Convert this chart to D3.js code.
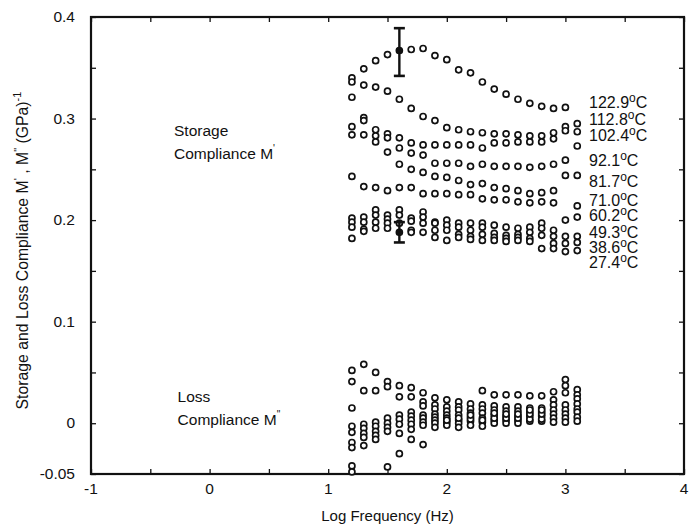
<!DOCTYPE html>
<html>
<head>
<meta charset="utf-8">
<script src="https://cdn.jsdelivr.net/npm/d3@7/dist/d3.min.js"></script>
<style>
  html, body { margin: 0; padding: 0; background: #fff; }
  svg { display: block; }
  text { font-family: "Liberation Sans", Arial, Helvetica, sans-serif; fill: #111; }
</style>
</head>
<body>
<svg id="chart" width="689" height="528"></svg>
<script>
// Log frequency of each measurement (Hz, log10)
const logFreq = [1.2, 1.3, 1.4, 1.5, 1.6, 1.7, 1.8, 1.9, 2.0, 2.1, 2.2, 2.3, 2.4, 2.5, 2.6, 2.7, 2.8, 2.9, 3.0, 3.1];

// Storage compliance M' (GPa^-1) per temperature
const temps = ["122.9", "112.8", "102.4", "92.1", "81.7", "71.0", "60.2", "49.3", "38.6", "27.4"];
const storage1229 = [0.340, 0.349, 0.357, 0.363, 0.367, 0.368, 0.369, 0.362, 0.358, 0.348, 0.345, 0.336, 0.329, 0.324, 0.319, 0.315, 0.312, 0.310, 0.311, null];
const storage1128 = [0.336, 0.333, 0.331, 0.327, 0.319, 0.310, 0.302, 0.298, 0.291, 0.289, 0.287, 0.286, 0.285, 0.285, 0.284, 0.283, 0.283, 0.286, 0.292, 0.295];
const storage1024 = [0.321, 0.301, 0.289, 0.285, 0.281, 0.276, 0.274, 0.274, 0.274, 0.274, 0.274, 0.271, 0.276, 0.276, 0.277, 0.277, 0.277, 0.280, 0.288, 0.287];
const storage921  = [0.292, 0.298, 0.283, 0.281, 0.271, 0.266, 0.264, 0.256, 0.256, 0.256, 0.253, 0.255, 0.253, 0.253, 0.253, 0.252, 0.253, 0.255, 0.259, 0.273];
const storage817  = [0.284, 0.284, 0.277, 0.267, 0.255, 0.250, 0.247, 0.243, 0.242, 0.239, 0.235, 0.236, 0.232, 0.231, 0.229, 0.226, 0.227, 0.229, 0.244, 0.244];
const storage710  = [0.243, 0.233, 0.232, 0.229, 0.232, 0.232, 0.226, 0.226, 0.226, 0.225, 0.225, 0.221, 0.220, 0.220, 0.218, 0.217, 0.218, 0.217, null, 0.214];
const storage602  = [0.202, 0.203, 0.210, 0.205, 0.210, 0.202, 0.208, 0.198, 0.200, 0.197, 0.197, 0.197, 0.195, 0.193, 0.192, 0.193, 0.197, 0.190, 0.200, 0.203];
const storage493  = [0.198, 0.198, 0.205, 0.201, 0.205, 0.199, 0.203, 0.197, 0.195, 0.193, 0.190, 0.193, 0.187, 0.185, 0.186, 0.188, 0.192, 0.184, 0.184, 0.184];
const storage386  = [0.193, 0.191, 0.198, 0.197, 0.197, 0.190, 0.197, 0.190, 0.190, 0.186, 0.184, 0.186, 0.183, 0.182, 0.183, 0.182, 0.185, 0.177, 0.177, 0.178];
const storage274  = [0.182, 0.189, 0.192, 0.192, 0.188, 0.188, 0.188, 0.183, 0.180, 0.183, 0.181, 0.180, 0.180, 0.179, 0.180, 0.179, 0.172, 0.172, 0.169, 0.170];

// Loss compliance M" (GPa^-1) per temperature
const loss1229 = [0.052, 0.058, 0.050, 0.041, 0.037, 0.035, 0.030, 0.025, 0.023, 0.021, 0.019, 0.032, 0.028, 0.028, 0.028, 0.027, 0.027, 0.031, 0.043, 0.033];
const loss1128 = [0.041, 0.032, 0.032, 0.036, 0.026, 0.026, 0.021, 0.018, 0.016, 0.016, 0.014, 0.018, 0.017, 0.016, 0.016, 0.015, 0.015, 0.023, 0.037, 0.028];
const loss1024 = [0.015, -0.001, 0.001, 0.005, 0.008, 0.011, 0.017, 0.014, 0.012, 0.013, 0.010, 0.014, 0.013, 0.012, 0.012, 0.011, 0.011, 0.018, 0.030, 0.024];
const loss921  = [-0.003, -0.005, -0.003, 0.000, 0.004, 0.007, 0.008, 0.009, 0.008, 0.008, 0.006, 0.010, 0.008, 0.007, 0.007, 0.007, 0.007, 0.013, 0.018, 0.019];
const loss817  = [-0.009, -0.010, -0.008, -0.004, -0.001, 0.003, 0.005, 0.006, 0.005, 0.003, 0.002, 0.005, 0.003, 0.003, 0.003, 0.002, 0.002, 0.009, 0.013, 0.014];
const loss710  = [-0.019, -0.014, -0.012, -0.008, -0.010, -0.001, 0.001, 0.003, 0.001, 0.000, -0.002, 0.001, 0.000, 0.000, 0.000, 0.004, 0.004, 0.005, 0.009, 0.011];
const loss602  = [-0.024, -0.022, -0.016, -0.043, -0.030, -0.006, -0.002, 0.000, -0.002, -0.004, 0.004, -0.003, 0.005, 0.005, 0.005, 0.009, 0.009, 0.001, 0.005, 0.006];
const loss493  = [-0.042, null, null, null, null, -0.016, -0.021, -0.004, 0.003, 0.005, 0.008, 0.003, 0.010, 0.009, 0.009, 0.013, 0.013, null, 0.001, 0.002];
const loss386  = [-0.048, null, null, null, null, null, null, null, null, null, null, null, null, null, null, null, null, null, null, null];
const loss274  = [null, null, null, null, null, null, null, null, null, null, null, null, null, null, null, null, null, null, null, null];

// Error bars at log f = 1.6 (storage, 122.9 and 27.4 C)
const errFreq = [1.6, 1.6];
const errValue = [0.367, 0.188];
const errLow = [0.342, 0.178];
const errHigh = [0.389, 0.198];

const xTickValues = [-1, 0, 1, 2, 3, 4];
const yTickLabels = [0.4, 0.3, 0.2, 0.1, 0, -0.05];

const storageSeries = [storage1229, storage1128, storage1024, storage921, storage817, storage710, storage602, storage493, storage386, storage274];
const lossSeries = [loss1229, loss1128, loss1024, loss921, loss817, loss710, loss602, loss493, loss386, loss274];

const svg = d3.select("#chart");
const plotL = 91, plotR = 684, plotT = 17, plotB = 474;

const x = d3.scaleLinear().domain([-1, 4]).range([plotL, plotR]);
const y = d3.scaleLinear().domain([-0.05, 0.4]).range([plotB, plotT]);

const fmtY = v => v === 0 ? "0" : (v === -0.05 ? "-0.05" : d3.format(".1f")(v));

// Frame ticks (all inward)
const minorX = d3.range(-1, 4.001, 0.5);
const minorY = d3.range(-0.05, 0.4001, 0.05);

const axB = d3.axisBottom(x).tickValues(minorX).tickSize(-5).tickFormat("");
const axT = d3.axisTop(x).tickValues(minorX).tickSize(-5).tickFormat("");
const axL = d3.axisLeft(y).tickValues(minorY).tickSize(-5).tickFormat("");
const axR = d3.axisRight(y).tickValues(minorY).tickSize(-5).tickFormat("");

function styleAxis(g) {
  g.selectAll(".domain").remove();
  g.selectAll(".tick line").attr("stroke", "#111").attr("stroke-width", 1.3);
}
svg.append("g").attr("transform", `translate(0,${plotB})`).call(axB).call(styleAxis);
svg.append("g").attr("transform", `translate(0,${plotT})`).call(axT).call(styleAxis);
svg.append("g").attr("transform", `translate(${plotL},0)`).call(axL).call(styleAxis);
svg.append("g").attr("transform", `translate(${plotR},0)`).call(axR).call(styleAxis);

svg.append("rect")
  .attr("x", plotL).attr("y", plotT)
  .attr("width", plotR - plotL).attr("height", plotB - plotT)
  .attr("fill", "none").attr("stroke", "#111").attr("stroke-width", 2.2);

// Tick labels
svg.append("g").selectAll("text").data(xTickValues).join("text")
  .attr("x", d => x(d)).attr("y", plotB + 20)
  .attr("text-anchor", "middle").attr("font-size", 15.5)
  .text(d => d);

svg.append("g").selectAll("text").data(yTickLabels).join("text")
  .attr("x", plotL - 16).attr("y", d => y(d) + 5)
  .attr("text-anchor", "end").attr("font-size", 15.5)
  .text(fmtY);

// Axis titles
svg.append("text")
  .attr("x", x(1.5)).attr("y", 521)
  .attr("text-anchor", "middle").attr("font-size", 15)
  .text("Log Frequency (Hz)");

const yTitle = svg.append("text")
  .attr("transform", `translate(28,${y(0.17)}) rotate(-90)`)
  .attr("text-anchor", "middle").attr("font-size", 15.8);
yTitle.append("tspan").text("Storage and Loss Compliance M");
yTitle.append("tspan").attr("dy", -6).attr("font-size", 11).text("'");
yTitle.append("tspan").attr("dy", 6).text(" , M");
yTitle.append("tspan").attr("dy", -6).attr("font-size", 11).text("\"");
yTitle.append("tspan").attr("dy", 6).text("  (GPa)");
yTitle.append("tspan").attr("dy", -7).attr("font-size", 11).text("-1");

// In-plot annotations
function twoLine(xv, yv, l1, l2, mark) {
  const g = svg.append("g");
  g.append("text").attr("x", x(xv)).attr("y", y(yv)).attr("font-size", 15.5).text(l1);
  const t = g.append("text").attr("x", x(xv)).attr("y", y(yv) + 23).attr("font-size", 15.5);
  t.append("tspan").text(l2);
  t.append("tspan").attr("dy", -7).attr("font-size", 10).text(mark);
}
twoLine(-0.3, 0.283, "Storage", "Compliance M", "'");
twoLine(-0.27, 0.021, "Loss", "Compliance M", "\"");

// Data points
const pts = [];
storageSeries.concat(lossSeries).forEach(s => s.forEach((v, i) => {
  if (v !== null) pts.push([logFreq[i], v]);
}));

svg.append("g").selectAll("circle").data(pts).join("circle")
  .attr("cx", d => x(d[0])).attr("cy", d => y(d[1])).attr("r", 3.0)
  .attr("fill", "#fff").attr("stroke", "#111").attr("stroke-width", 1.7);

// Error bars with filled centre points
const eb = svg.append("g");
errFreq.forEach((f, i) => {
  const cx = x(f);
  eb.append("line").attr("x1", cx).attr("x2", cx).attr("y1", y(errLow[i])).attr("y2", y(errHigh[i]))
    .attr("stroke", "#111").attr("stroke-width", 2.4);
  [errLow[i], errHigh[i]].forEach(v => {
    eb.append("line").attr("x1", cx - 5.5).attr("x2", cx + 5.5).attr("y1", y(v)).attr("y2", y(v))
      .attr("stroke", "#111").attr("stroke-width", 2.6);
  });
  eb.append("circle").attr("cx", cx).attr("cy", y(errValue[i])).attr("r", 3.3).attr("fill", "#111");
});

// Temperature labels at the high-frequency end
const labelAt = [0.316, 0.299, 0.283, 0.259, 0.238, 0.219, 0.2045, 0.188, 0.173, 0.158];
const lg = svg.append("g");
temps.forEach((t, i) => {
  const tx = lg.append("text").attr("x", 589).attr("y", y(labelAt[i]) + 5.5).attr("font-size", 16);
  tx.append("tspan").text(t);
  tx.append("tspan").attr("dy", -6).attr("font-size", 12).text("o");
  tx.append("tspan").attr("dy", 6).text("C");
});
</script>
</body>
</html>
